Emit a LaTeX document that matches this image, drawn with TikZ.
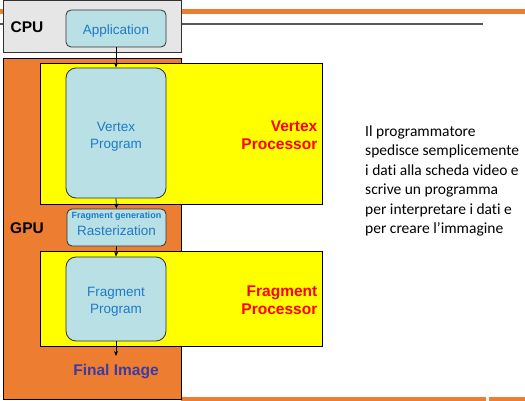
\documentclass[tikz,border=0pt]{standalone}
\usepackage{fontspec}
\setmainfont{Liberation Sans}
\newfontfamily\calib[Ligatures=NoCommon]{Carlito}
\usetikzlibrary{arrows.meta}
\definecolor{orng}{RGB}{237,125,49}
\definecolor{ylw}{RGB}{255,255,0}
\definecolor{lblue}{RGB}{185,224,228}
\definecolor{tblue}{RGB}{30,122,200}
\definecolor{cpugray}{RGB}{230,230,230}
\definecolor{fimg}{RGB}{60,60,160}
\definecolor{bordergray}{RGB}{50,50,50}
\tikzset{
  x=1pt, y=1pt,
  region/.style={draw=black, line width=0.8pt, inner sep=0pt, minimum width=#1},
  procbox/.style={draw=black, fill=ylw, line width=0.8pt, inner sep=0pt, minimum width=282},
  stage/.style={draw=bordergray, fill=lblue, line width=0.8pt, inner sep=0pt, minimum width=100, rounded corners=#1},
  stagetext/.style={text=tblue, font=\fontsize{13.5}{17}\selectfont, align=center, inner sep=0pt},
  bigbold/.style={font=\fontsize{15.5}{18}\selectfont\bfseries},
  proclabel/.style={bigbold, text=red, align=right, anchor=east, inner sep=0pt},
  flow/.style={-{Stealth[length=5pt,width=4pt]}, line width=0.8pt}
}
\begin{document}
\begin{tikzpicture}
\useasboundingbox (0,0) rectangle (525,-401);
% decorative slide lines
\draw[orng, line width=4.5pt] (0,-11.3) -- (525,-11.3);
\draw[gray!70!black, line width=1.2pt] (0,-24) -- (483,-24);
\draw[orng, line width=4.5pt] (181,-398.8) -- (486,-398.8);
\draw[orng, line width=4.5pt] (488.7,-398.8) -- (525,-398.8);
% CPU and GPU regions
\node[region=178, draw=bordergray, fill=cpugray, minimum height=52] (cpu) at (92,-26.5) {};
\node[region=178, fill=orng, minimum height=341] (gpu) at (92,-228.5) {};
\node[bigbold] (cpulbl) at (27,-27) {CPU};
\node[bigbold] (gpulbl) at (27,-228.5) {GPU};
% processors
\node[procbox, minimum height=141] (vproc) at (181,-133.5) {};
\node[procbox, minimum height=95] (fproc) at (181,-298.5) {};
\node[proclabel] (vproclbl) at (317.5,-135.5) {Vertex\\Processor};
\node[proclabel] (fproclbl) at (317.5,-300) {Fragment\\Processor};
% stages
\node[stage=5pt, minimum height=37] (app) at (116,-28.5) {};
\node[stagetext] (applbl) at (116,-31.5) {Application};
\node[stage=10pt, minimum height=130] (vprog) at (116,-133) {};
\node[stagetext] (vproglbl) at (116,-136.5) {Vertex\\Program};
\node[stage=5pt, minimum height=37, minimum width=99] (rast) at (116.5,-227.5) {};
\node[text=tblue, font=\fontsize{9}{10}\selectfont\bfseries, inner sep=0pt] (fraggen) at (116.5,-216.5) {Fragment generation};
\node[stagetext] (rastlbl) at (116.5,-230.5) {Rasterization};
\node[stage=10pt, minimum height=84] (fprog) at (116,-299) {};
\node[stagetext] (fproglbl) at (116,-301.5) {Fragment\\Program};
\node[bigbold, text=fimg] (final) at (116,-372) {Final Image};
\coordinate (finalin) at (116,-356);
% connectors
\draw[flow] (app.south) -- (vprog.north);
\draw[flow] (vprog.south) -- (rast.north);
\draw[flow] (rast.south) -- (fprog.north);
\draw[flow] (fprog.south) -- (finalin);
% explanatory text
\node[anchor=north west, inner sep=0pt, align=left, font=\calib\fontsize{15.5}{19.4}\selectfont] (note) at (365,-125.5) {Il programmatore\\spedisce semplicemente\\i dati alla scheda video e\\scrive un programma\\per interpretare i dati e\\per creare l’immagine};
\end{tikzpicture}
\end{document}
